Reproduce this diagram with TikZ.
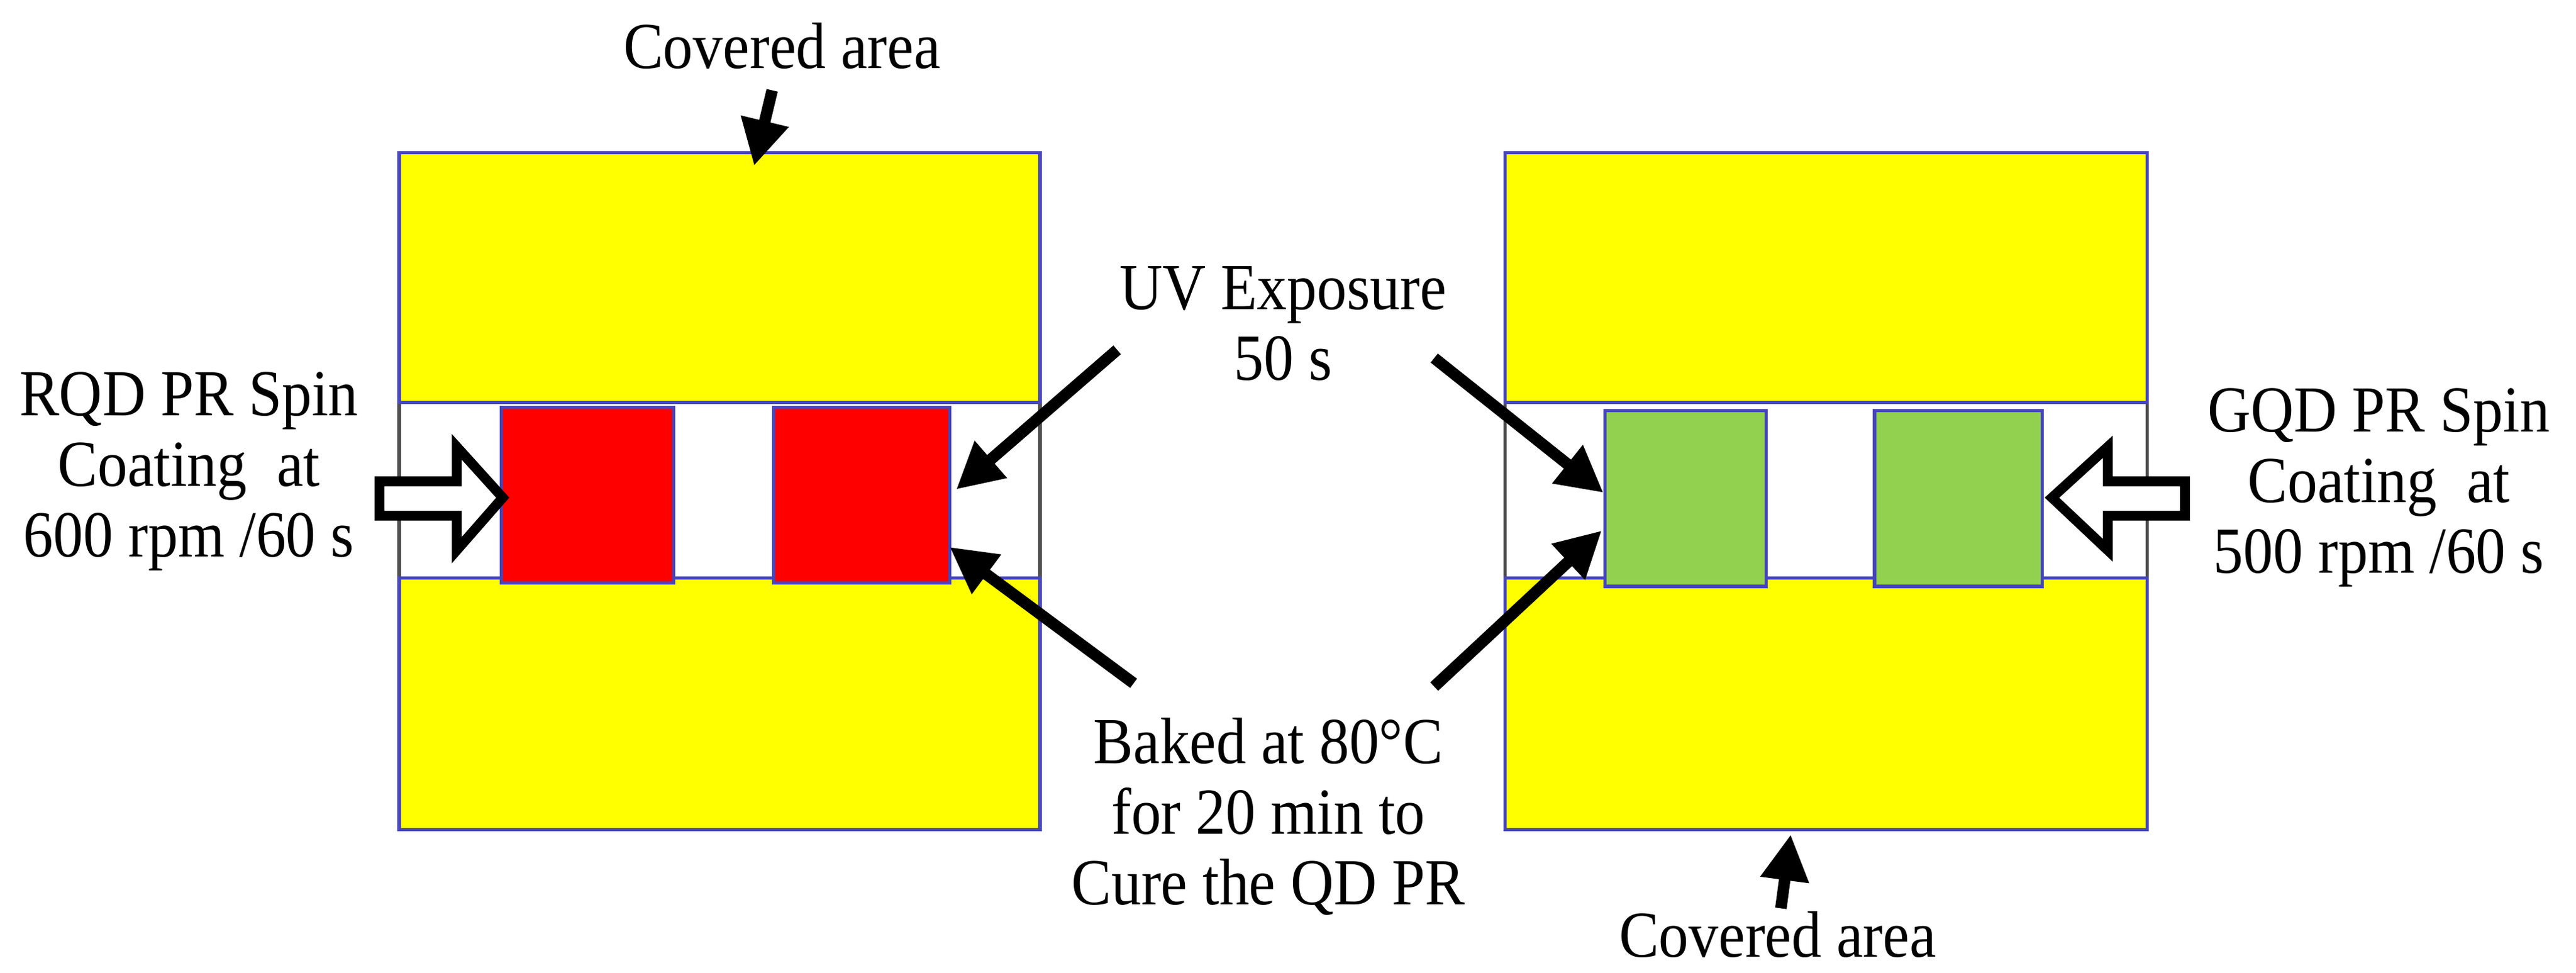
\documentclass[tikz,border=0pt]{standalone}
\usepackage{fontspec}
\setmainfont{Liberation Serif}[FakeStretch=0.91]
\usetikzlibrary{arrows.meta}
\definecolor{pureyellow}{RGB}{255,255,0}
\begin{document}
\begin{tikzpicture}[x=0.5pt,y=-0.5pt,
  lbl/.style={font=\fontsize{20}{21.5}\selectfont, align=center, inner sep=0pt},
  ar/.style={line width=3.5pt, -{Triangle[length=14pt,width=14pt]}},
  box/.style={draw=blue!45!gray, line width=1pt},
  hol/.style={draw=black, line width=3pt, fill=white, line join=miter}]
\useasboundingbox (0,0) rectangle (1568,592);
% left panel
\draw[gray!60!black, line width=1pt] (243,245) rectangle (633,352);
\draw[box, fill=pureyellow] (243,93) rectangle (633,245);
\draw[box, fill=pureyellow] (243,352) rectangle (633,505);
\draw[box, fill=red] (305,248) rectangle (410,355);
\draw[box, fill=red] (471,248) rectangle (578,355);
% right panel
\draw[gray!60!black, line width=1pt] (916,245) rectangle (1307,352);
\draw[box, fill=pureyellow] (916,93) rectangle (1307,245);
\draw[box, fill=pureyellow] (916,352) rectangle (1307,505);
\draw[box, fill={rgb,255:red,146;green,208;blue,80}] (977,250) rectangle (1075,357);
\draw[box, fill={rgb,255:red,146;green,208;blue,80}] (1141,250) rectangle (1243,357);
% texts
\node[lbl] (cov1) at (476,28) {Covered area};
\node[lbl] (cov2) at (1082,569) {Covered area};
\node[lbl] (uv) at (781,197) {UV Exposure\\50 s};
\node[lbl] (bake) at (772,497) {Baked at 80°C\\for 20 min to\\Cure the QD PR};
\node[lbl] (rqd) at (115,287) {RQD PR Spin\\Coating\ \ at\\600 rpm /60 s};
\node[lbl] (gqd) at (1448,297) {GQD PR Spin\\Coating\ \ at\\500 rpm /60 s};
% coordinates
\coordinate (t1) at (470,55); \coordinate (h1) at (459,101);
\coordinate (t2) at (1084,553); \coordinate (h2) at (1090,508);
\coordinate (uvl) at (680,213); \coordinate (uvlh) at (582,298);
\coordinate (uvr) at (873,218); \coordinate (uvrh) at (976,300);
\coordinate (bkl) at (690,416); \coordinate (bklh) at (578,333);
\coordinate (bkr) at (873,418); \coordinate (bkrh) at (975,323);
\draw[ar] (t1) -- (h1);
\draw[ar] (t2) -- (h2);
\draw[ar] (uvl) -- (uvlh);
\draw[ar] (uvr) -- (uvrh);
\draw[ar] (bkl) -- (bklh);
\draw[ar] (bkr) -- (bkrh);
% hollow arrows
\draw[hol] (231,293) -- (278,293) -- (278,272) -- (306,303) -- (278,335) -- (278,314) -- (231,314) -- cycle;
\draw[hol] (1330,293) -- (1283,293) -- (1283,272) -- (1249,303) -- (1283,335) -- (1283,314) -- (1330,314) -- cycle;
\end{tikzpicture}
\end{document}
